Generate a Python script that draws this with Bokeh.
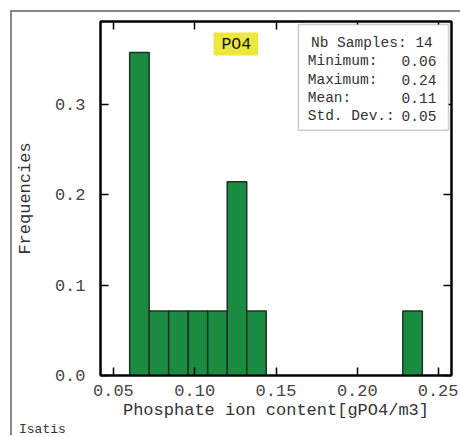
from bokeh.plotting import figure
from bokeh.models import (Range1d, LinearAxis, FixedTicker, NumeralTickFormatter,
                          BoxAnnotation, Label, ColumnDataSource, Div, Spacer,
                          CustomLabelingPolicy)
from bokeh.layouts import column, row
from bokeh.embed import file_html
from bokeh.resources import INLINE

# ---- data ----
bin_left = [0.060, 0.072, 0.084, 0.096, 0.108, 0.120, 0.132, 0.228]
bin_right = [0.072, 0.084, 0.096, 0.108, 0.120, 0.132, 0.144, 0.240]
frequencies = [0.357, 0.0714, 0.0714, 0.0714, 0.0714, 0.214, 0.0714, 0.0714]
x_ticks = [0.05, 0.10, 0.15, 0.20, 0.25]
y_ticks = [0.0, 0.1, 0.2, 0.3]
stat_header = "Nb Samples: 14"
stat_names = ["Minimum:", "Maximum:", "Mean:", "Std. Dev.:"]
stat_values = ["0.06", "0.24", "0.11", "0.05"]
title_text = "PO4"
x_label = "Phosphate ion content[gPO4/m3]"
y_label = "Frequencies"
footer = "Isatis"

FONT = "Liberation Mono"

p = figure(width=446, height=414, output_backend="svg", toolbar_location=None,
           x_range=Range1d(0.04207, 0.25793), y_range=Range1d(0, 0.3912),
           min_border_left=85, min_border_right=7, min_border_top=9,
           min_border_bottom=51, background_fill_color="white",
           border_fill_color="white")
p.grid.visible = False
p.outline_line_color = "black"
p.outline_line_width = 2

src = ColumnDataSource(dict(left=bin_left, right=bin_right, top=frequencies,
                            bottom=[0] * len(frequencies)))
p.quad(left="left", right="right", top="top", bottom="bottom", source=src,
       fill_color="#1b8b42", line_color="#1c3322", line_width=1.5)

def style_axis(ax, labels=True):
    ax.axis_line_color = "black"
    ax.axis_line_width = 2
    ax.major_tick_in = 8
    ax.major_tick_out = 0
    ax.major_tick_line_color = "black"
    ax.major_tick_line_width = 1.5
    ax.minor_tick_line_color = None
    ax.major_label_text_font = FONT
    ax.major_label_text_font_size = "17px" if labels else "0px"
    ax.major_label_text_color = "#444444"
    ax.axis_label_text_font = FONT
    ax.axis_label_text_font_size = "17px"
    ax.axis_label_text_font_style = "normal"
    ax.axis_label_text_color = "#333333"
    if not labels:
        ax.major_label_standoff = 0
        ax.major_label_policy = CustomLabelingPolicy(code="return;")

xa = p.xaxis[0]
xa.ticker = FixedTicker(ticks=x_ticks)
xa.formatter = NumeralTickFormatter(format="0.00")
style_axis(xa)
xa.major_label_standoff = 9
xa.axis_label = x_label
xa.axis_label_standoff = 2

ya = p.yaxis[0]
ya.ticker = FixedTicker(ticks=y_ticks)
ya.formatter = NumeralTickFormatter(format="0.0")
style_axis(ya)
ya.major_label_standoff = 15
ya.axis_label = y_label
ya.axis_label_standoff = 17

top_ax = LinearAxis(ticker=FixedTicker(ticks=x_ticks))
style_axis(top_ax, labels=False)
p.add_layout(top_ax, "above")
right_ax = LinearAxis(ticker=FixedTicker(ticks=y_ticks))
style_axis(right_ax, labels=False)
p.add_layout(right_ax, "right")

# stats box
p.add_layout(BoxAnnotation(left=0.1638, right=0.2561, bottom=0.271, top=0.3878,
                           fill_color="white", fill_alpha=1,
                           line_color="#555555", line_width=1.5))
p.add_layout(Label(x=0.20896, y=0.3669, text=stat_header, text_align="center",
                   text_baseline="middle", text_font=FONT,
                   text_font_size="14.5px", text_color="#333333"))
stat_y = [0.3470, 0.3271, 0.3072, 0.2873]
for name, val, yy in zip(stat_names, stat_values, stat_y):
    p.add_layout(Label(x=0.16951, y=yy, text=name, text_align="left",
                       text_baseline="middle", text_font=FONT,
                       text_font_size="14.5px", text_color="#333333"))
    p.add_layout(Label(x=0.24860, y=yy, text=val, text_align="right",
                       text_baseline="middle", text_font=FONT,
                       text_font_size="14.5px", text_color="#333333"))

# title
p.add_layout(BoxAnnotation(left=0.1116, right=0.1390, bottom=0.3536, top=0.379,
                           fill_color="#ede83a", fill_alpha=1, line_color=None))
p.add_layout(Label(x=0.1256, y=0.3663, text=title_text, text_align="center",
                   text_baseline="middle", text_font=FONT,
                   text_font_size="16.5px", text_color="#111111"))

# footer text + gray outer frame (HTML)
foot = Div(text=footer, width=446, height=8,
           styles={"font-family": FONT, "font-size": "13px", "color": "#333333",
                   "line-height": "8px", "padding-left": "2px",
                   "margin-top": "-4px", "padding-top": "4px"})
inner = column(p, foot, spacing=0,
               styles={"border-left": "2px solid #888888",
                       "border-top": "2px solid #888888"})
root = column(Spacer(height=10), row(Spacer(width=10), inner, spacing=0), spacing=0)

open("out.html", "w").write(file_html(root, INLINE))
